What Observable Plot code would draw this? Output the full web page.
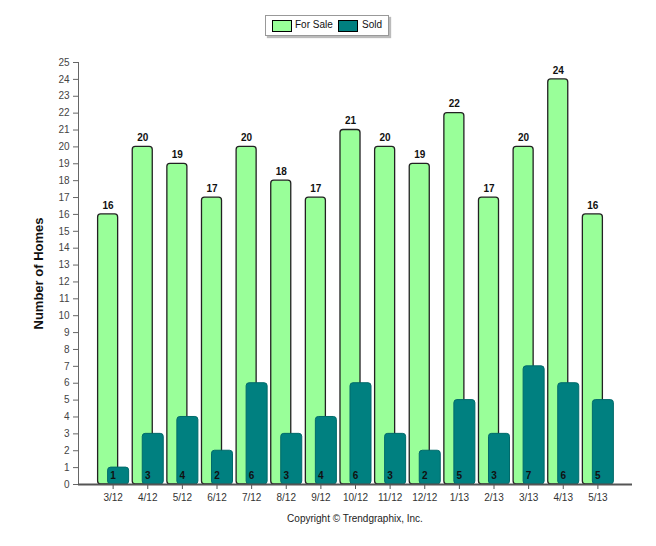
<!DOCTYPE html>
<html>
<head>
<meta charset="utf-8">
<script src="https://cdn.jsdelivr.net/npm/d3@7"></script>
<script src="https://cdn.jsdelivr.net/npm/@observablehq/plot@0.6"></script>
<style>
  body { margin: 0; background: #fff; font-family: "Liberation Sans", Arial, sans-serif; }
  #wrap { position: relative; width: 656px; height: 546px; }
  #legend { position: absolute; left: 265px; top: 15px; width: 122px; height: 19px; box-sizing: content-box;
    border: 1px solid #999; box-shadow: 2px 2px 1px #bbb; background: #fff;
    font-size: 10px; color: #000; white-space: nowrap; }
  .sw { position: absolute; top: 4px; width: 18px; height: 10px; border: 1px solid #000; }
  .lt { position: absolute; top: 3px; line-height: 12px; color: #111; }
  #chart { position: absolute; left: 0; top: 50px; }
  #caption { position: absolute; left: 0; width: 710px; top: 513px; text-align: center; font-size: 10px; color: #222; }
</style>
</head>
<body>
<div id="wrap">
  <div id="legend">
    <span class="sw" style="left:6px;background:#99FF99"></span><span class="lt" style="left:29px">For Sale</span>
    <span class="sw" style="left:72px;background:#008080"></span><span class="lt" style="left:96px">Sold</span>
  </div>
  <div id="chart"></div>
  <div id="caption">Copyright © Trendgraphix, Inc.</div>
</div>
<script>
const months = ["3/12","4/12","5/12","6/12","7/12","8/12","9/12","10/12","11/12","12/12","1/13","2/13","3/13","4/13","5/13"];
const forSale = [16,20,19,17,20,18,17,21,20,19,22,17,20,24,16];
const sold = [1,3,4,2,6,3,4,6,3,2,5,3,7,6,5];
const yTicks = d3.range(0, 26);

const data = months.map((m, i) => ({month: m, forSale: forSale[i], sold: sold[i]}));

const plot = Plot.plot({
  width: 656,
  height: 455,
  marginLeft: 78,
  marginRight: 24,
  marginTop: 12,
  marginBottom: 21,
  style: {fontFamily: "'Liberation Sans', Arial, sans-serif", fontSize: "10px", color: "#333"},
  x: {domain: months, type: "band", paddingInner: 0, paddingOuter: 0.5, round: false, label: null},
  y: {domain: [0, 25], label: null},
  marks: [
    Plot.frame({anchor: "left", stroke: "#666"}),
    Plot.barY(data, {x: "month", y: "forSale", fill: "#99FF99", stroke: "#222", strokeWidth: 1.3,
      insetLeft: 2.3, insetRight: 12.3, rx: 3}),
    Plot.barY(data, {x: "month", y: "sold", fill: "#008080", stroke: "#006a6a", strokeWidth: 1,
      insetLeft: 12.3, insetRight: 1.3, rx: 3}),
    Plot.text(data, {x: "month", y: "forSale", text: d => d.forSale, dx: -5, dy: -9,
      fontWeight: "bold", fontSize: 10, fill: "#111"}),
    Plot.text(data, {x: "month", y: 0, text: d => d.sold, dy: -9,
      fontWeight: "bold", fontSize: 10, fill: "#111"}),
    Plot.ruleY([0], {stroke: "#555", strokeWidth: 2}),
    Plot.axisY({ticks: yTicks, tickSize: 5, tickFormat: d => d, label: null, stroke: "#666", fill: "#444"}),
    Plot.axisX({tickSize: 5, label: null, fill: "#333", stroke: "#555"}),
    Plot.text(["Number of Homes"], {frameAnchor: "left", textAnchor: "middle", text: d => d, rotate: -90, dx: -40,
      fontSize: 13, fontWeight: "bold", fill: "#111"})
  ]
});
document.getElementById("chart").appendChild(plot);
</script>
</body>
</html>
